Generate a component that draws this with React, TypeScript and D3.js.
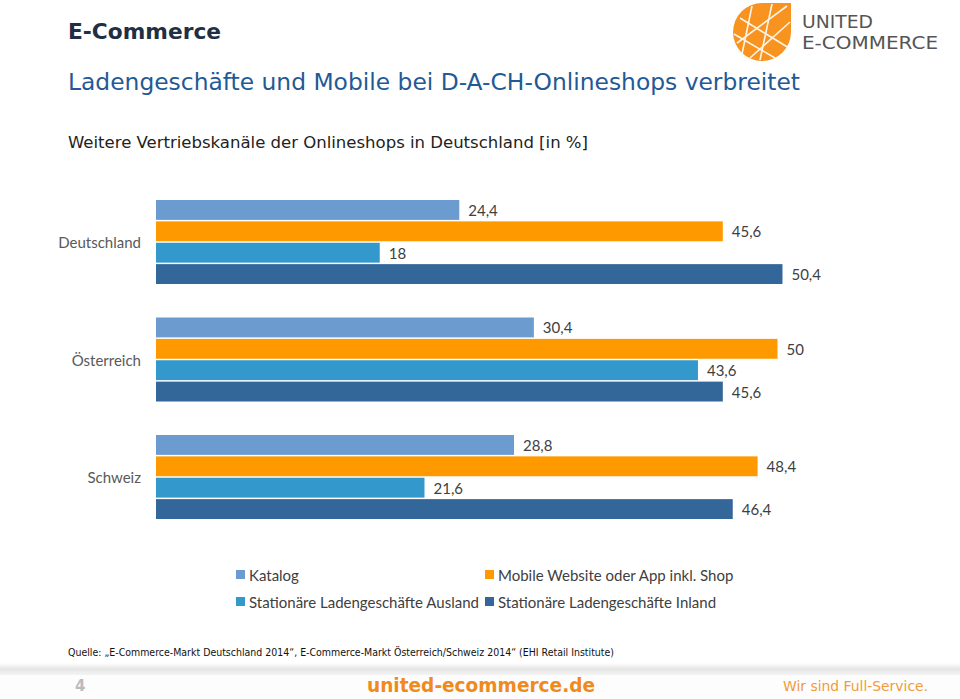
import React from "react";
import * as d3 from "d3";

const countries = ["Deutschland", "Österreich", "Schweiz"];
const seriesNames = [
  "Katalog",
  "Mobile Website oder App inkl. Shop",
  "Stationäre Ladengeschäfte Ausland",
  "Stationäre Ladengeschäfte Inland",
];
const seriesColors = ["#6B9BCF", "#FF9900", "#3399CC", "#336699"];
const katalog = [24.4, 30.4, 28.8];
const mobile = [45.6, 50, 48.4];
const ausland = [18, 43.6, 21.6];
const inland = [50.4, 45.6, 46.4];
const seriesValues = [katalog, mobile, ausland, inland];

const fmt = (v: number) => String(v).replace(".", ",");

export default function App() {
  const x = d3.scaleLinear().domain([0, 60]).range([156, 901.8]);
  const yGroup = d3.scaleBand<string>().domain(countries).range([200, 519]).paddingInner(0.285).paddingOuter(0);
  const ySeries = d3
    .scaleBand<number>()
    .domain(d3.range(seriesNames.length))
    .range([0, yGroup.bandwidth()])
    .paddingInner(0.07);

  const legendPos = [
    [236, 575],
    [485, 575],
    [236, 602],
    [485, 602],
  ];

  return (
    <svg width={960} height={699} style={{ position: "absolute", left: 0, top: 0, background: "#fff" }}>
      <rect width={960} height={699} fill="#fff" />
      {/* Titles */}
      <text x={68} y={39} fontFamily="DejaVu Sans" fontWeight="bold" fontSize={21.5} fill="#1F2F44" textLength={153} lengthAdjust="spacingAndGlyphs">
        E-Commerce
      </text>
      <text x={68} y={90} fontFamily="DejaVu Sans" fontSize={22.5} fill="#1F5A96" textLength={732} lengthAdjust="spacingAndGlyphs">
        Ladengeschäfte und Mobile bei D-A-CH-Onlineshops verbreitet
      </text>
      <text x={68} y={148} fontFamily="DejaVu Sans" fontSize={16} fill="#222" textLength={520} lengthAdjust="spacingAndGlyphs">
        Weitere Vertriebskanäle der Onlineshops in Deutschland [in %]
      </text>

      {/* Logo */}
      <g>
        <path d="M 762 3 L 791 3 L 791 32 A 29 29 0 1 1 762 3 Z" fill="#F7931E" />
        <g stroke="#fff" strokeWidth={1.6} fill="none" opacity={0.9}>
          <line x1={740} y1={18} x2={789} y2={48} />
          <line x1={734} y1={34} x2={775} y2={58} />
          <line x1={752} y1={6} x2={742} y2={54} />
          <line x1={772} y1={4} x2={760} y2={60} />
          <line x1={787} y1={6} x2={737} y2={43} />
          <line x1={790} y1={22} x2={750} y2={58} />
        </g>
        <text x={802} y={28} fontFamily="DejaVu Sans" fontSize={17.5} fill="#555" textLength={71} lengthAdjust="spacingAndGlyphs">
          UNITED
        </text>
        <text x={802} y={49} fontFamily="DejaVu Sans" fontSize={17.5} fill="#555" textLength={136} lengthAdjust="spacingAndGlyphs">
          E-COMMERCE
        </text>
      </g>

      {/* Bars */}
      {countries.map((c, ci) => (
        <g key={c}>
          <text
            x={141}
            y={(yGroup(c) as number) + yGroup.bandwidth() / 2}
            textAnchor="end"
            dominantBaseline="central"
            fontFamily="Lato"
            fontSize={15}
            fill="#595959"
          >
            {c}
          </text>
          {seriesValues.map((vals, si) => {
            const y0 = (yGroup(c) as number) + (ySeries(si) as number);
            const v = vals[ci];
            return (
              <g key={si}>
                <rect x={x(0)} y={y0} width={x(v) - x(0)} height={ySeries.bandwidth()} fill={seriesColors[si]} />
                <text
                  x={x(v) + 9}
                  y={y0 + ySeries.bandwidth() / 2}
                  dominantBaseline="central"
                  fontFamily="Lato"
                  fontSize={15}
                  fill="#404040"
                >
                  {fmt(v)}
                </text>
              </g>
            );
          })}
        </g>
      ))}

      {/* Legend */}
      {seriesNames.map((n, i) => (
        <g key={n}>
          <rect x={legendPos[i][0]} y={legendPos[i][1] - 5} width={9} height={9} fill={seriesColors[i]} />
          <text
            x={legendPos[i][0] + 13}
            y={legendPos[i][1]}
            dominantBaseline="central"
            fontFamily="Lato"
            fontSize={15}
            fill="#404040"
          >
            {n}
          </text>
        </g>
      ))}

      {/* Footer */}
      <text x={68} y={656} fontFamily="DejaVu Sans" fontSize={10.5} fill="#111" textLength={546} lengthAdjust="spacingAndGlyphs">
        Quelle: „E-Commerce-Markt Deutschland 2014“, E-Commerce-Markt Österreich/Schweiz 2014“ (EHI Retail Institute)
      </text>
      <defs>
        <linearGradient id="fg" x1="0" x2="0" y1="0" y2="1">
          <stop offset="0" stopColor="#fff" />
          <stop offset="0.5" stopColor="#e6e6e6" />
          <stop offset="1" stopColor="#f4f4f4" />
        </linearGradient>
      </defs>
      <rect x={0} y={663} width={960} height={12} fill="url(#fg)" />
      <rect x={0} y={675} width={960} height={24} fill="#fdfdfd" />
      <text x={75} y={691} fontFamily="DejaVu Sans" fontWeight="bold" fontSize={15} fill="#bbb">
        4
      </text>
      <text x={367} y={692} fontFamily="DejaVu Sans" fontWeight="bold" fontSize={20} fill="#F08A1C" textLength={228} lengthAdjust="spacingAndGlyphs">
        united-ecommerce.de
      </text>
      <text x={783} y={691} fontFamily="DejaVu Sans" fontSize={14} fill="#F39A3A" textLength={145} lengthAdjust="spacingAndGlyphs">
        Wir sind Full-Service.
      </text>
    </svg>
  );
}
